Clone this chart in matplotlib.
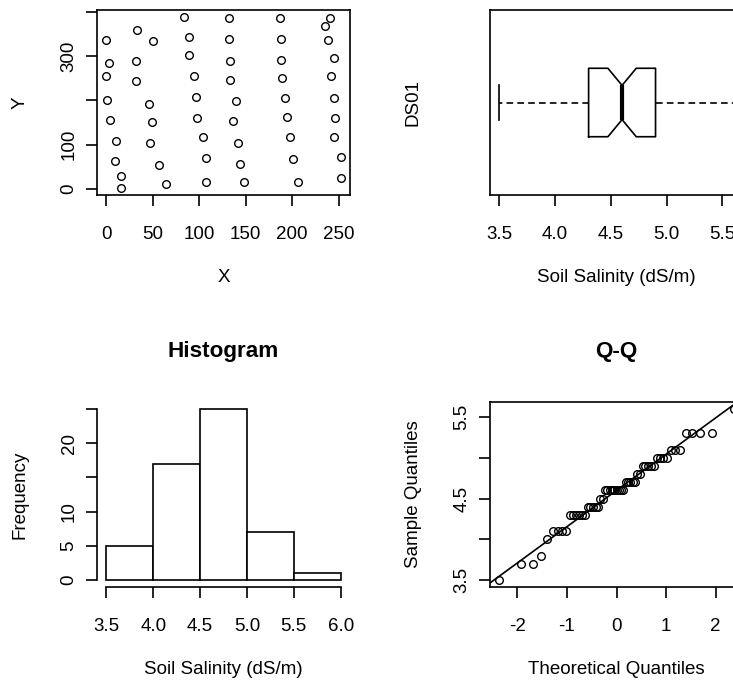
import numpy as np
import pandas as pd
import matplotlib
matplotlib.use('Agg')
import matplotlib.pyplot as plt
from statistics import NormalDist

plt.rcParams['font.family'] = ['Liberation Sans', 'DejaVu Sans']
plt.rcParams['font.size'] = 13.5
plt.rcParams['axes.unicode_minus'] = False

# sampling locations
loc_x = [0, 2.9, 0, 1.1, 4.3, 10.8, 9.3, 15.4, 15.4,
         33.4, 32, 32, 50, 45.6, 49.2, 47.4, 56.8, 63.9,
         83.7, 88.7, 88.7, 94.8, 96.3, 97.7, 103.8, 107.4, 107.4,
         131.5, 131.5, 132.9, 132.9, 139.4, 135.8, 142.2, 143.7, 148.7,
         187.1, 188.2, 188.2, 189.3, 192.5, 194.3, 197.6, 200.8, 206.5,
         240.7, 234.9, 238.9, 244.6, 241.4, 244.6, 246, 244.6, 252.2, 252.2]
loc_y = [337, 285, 256, 201.5, 156, 108, 63, 30, 1.5,
         359, 288.6, 243, 334, 191.7, 150, 104.5, 53, 10.6,
         388.6, 344, 301.5, 256, 207.6, 160, 118, 69.7, 14.4,
         385, 339, 288, 247, 198.5, 153.8, 104.5, 56, 14.4,
         385, 339, 291.7, 250, 204.5, 163, 118, 66.7, 15,
         385, 369, 337, 294.7, 256, 204.5, 159, 118, 72.7, 25]

# soil salinity (dS/m), DS01
salinity = [3.5, 3.7, 3.7, 3.8, 4.0,
            4.1, 4.1, 4.1, 4.1,
            4.3, 4.3, 4.3, 4.3, 4.3, 4.3,
            4.4, 4.4, 4.4, 4.4, 4.4,
            4.5, 4.5,
            4.6, 4.6, 4.6, 4.6, 4.6, 4.6, 4.6, 4.6, 4.6,
            4.7, 4.7, 4.7, 4.7, 4.7,
            4.8, 4.8,
            4.9, 4.9, 4.9, 4.9, 4.9,
            5.0, 5.0, 5.0, 5.0,
            5.1, 5.1, 5.1,
            5.3, 5.3, 5.3, 5.3,
            5.6]

hist_edges = [3.5, 4.0, 4.5, 5.0, 5.5, 6.0]

LW = 1.2
W, H = 733, 684


def rect(left, top, w=253, h=185):
    return [left / W, 1 - (top + h) / H, w / W, h / H]


def r_lim(lo, hi):
    pad = 0.04 * (hi - lo)
    return lo - pad, hi + pad


def style(ax, w=253, h=185):
    for s in ax.spines.values():
        s.set_linewidth(LW)
    ax.tick_params(direction='out', length=8, width=LW, color='black')
    ax.tick_params(axis='x', pad=14)
    ax.tick_params(axis='y', pad=6, labelrotation=90)
    for lab in ax.get_yticklabels():
        lab.set_va('center')
    ax.xaxis.set_label_coords(0.5, -83 / h)
    ax.xaxis.label.set_va('center')
    ax.yaxis.set_label_coords(-77 / w, 0.5)
    ax.yaxis.label.set_va('center')


fig = plt.figure(figsize=(W / 100, H / 100), dpi=100)

# locations
ax = fig.add_axes(rect(97, 10))
ax.plot(loc_x, loc_y, 'o', mfc='none', mec='black', ms=5.5, mew=1.0)
ax.set_xticks([0, 50, 100, 150, 200, 250])
ax.set_yticks([0, 100, 200, 300, 400], ['0', '100', '', '300', ''])
ax.set_xlim(*r_lim(min(loc_x), max(loc_x)))
ax.set_ylim(*r_lim(min(loc_y), max(loc_y)))
ax.set_xlabel('X')
ax.set_ylabel('Y')
style(ax)

# boxplot
ax = fig.add_axes(rect(490, 10))
ax.boxplot(salinity, notch=True, orientation='horizontal', widths=0.37,
           whis=1.5, showfliers=False,
           boxprops=dict(color='black', lw=LW),
           whiskerprops=dict(color='black', lw=LW, linestyle=(0, (4, 2.5))),
           capprops=dict(color='black', lw=LW),
           medianprops=dict(color='black', lw=3))
ax.set_xticks([3.5, 4.0, 4.5, 5.0, 5.5], ['3.5', '4.0', '4.5', '5.0', '5.5'])
ax.set_yticks([])
ax.set_ylim(0.5, 1.5)
ax.set_xlim(*r_lim(min(salinity), max(salinity)))
ax.set_xlabel('Soil Salinity (dS/m)')
ax.set_ylabel('DS01')
style(ax)

# histogram (right-closed bins)
binned = pd.cut(pd.Series(salinity), hist_edges, right=True, include_lowest=True)
counts = binned.value_counts(sort=False).sort_index().values
ax = fig.add_axes(rect(97, 402))
ax.bar(hist_edges[:-1], counts, width=np.diff(hist_edges), align='edge',
       facecolor='white', edgecolor='black', lw=LW)
ax.set_xticks(hist_edges, ['3.5', '4.0', '4.5', '5.0', '5.5', '6.0'])
ax.set_yticks([0, 5, 10, 15, 20, 25], ['0', '5', '10', '', '20', ''])
ax.set_xlim(*r_lim(hist_edges[0], hist_edges[-1]))
ax.set_ylim(*r_lim(0, counts.max()))
ax.spines['top'].set_visible(False)
ax.spines['right'].set_visible(False)
ax.spines['bottom'].set_bounds(hist_edges[0], hist_edges[-1])
ax.spines['left'].set_bounds(0, counts.max())
ax.set_xlabel('Soil Salinity (dS/m)')
ax.set_ylabel('Frequency')
ax.set_title('Histogram', fontweight='bold', fontsize=16.2, y=1 + 42 / 185, va='center')
style(ax)

# normal Q-Q
n = len(salinity)
sample = np.sort(salinity)
nd = NormalDist()
theo = np.array([nd.inv_cdf((i - 0.5) / n) for i in range(1, n + 1)])
q1, q3 = np.percentile(sample, [25, 75])
t1, t3 = nd.inv_cdf(0.25), nd.inv_cdf(0.75)

ax = fig.add_axes(rect(490, 402))
ax.plot(theo, sample, 'o', mfc='none', mec='black', ms=5.5, mew=1.0)
ax.axline((t1, q1), (t3, q3), color='black', lw=LW)
ax.set_xticks([-2, -1, 0, 1, 2])
ax.set_yticks([3.5, 4.0, 4.5, 5.0, 5.5], ['3.5', '', '4.5', '', '5.5'])
ax.set_xlim(*r_lim(theo.min(), theo.max()))
ax.set_ylim(*r_lim(sample.min(), sample.max()))
ax.set_xlabel('Theoretical Quantiles')
ax.set_ylabel('Sample Quantiles')
ax.set_title('Q-Q', fontweight='bold', fontsize=16.2, y=1 + 42 / 185, va='center')
style(ax)

fig.savefig('out.png', dpi=100)
